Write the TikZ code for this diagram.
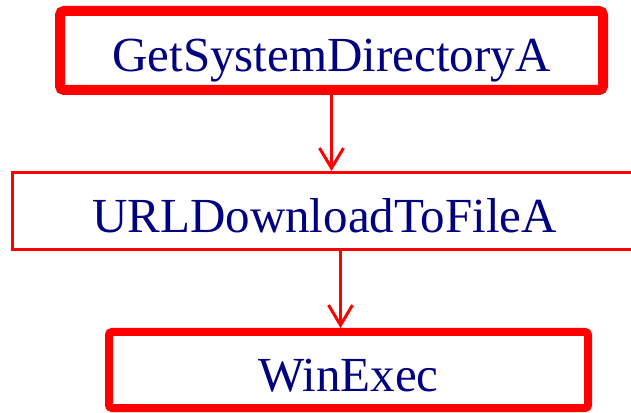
\documentclass[tikz,border=0pt]{standalone}
\usepackage{fontspec}
\setmainfont{Liberation Serif}
\usepackage{tikz}
\usetikzlibrary{arrows.meta,positioning}
\definecolor{callred}{HTML}{FF0000}
\definecolor{callnavy}{HTML}{000080}

\begin{document}
\begin{tikzpicture}[x=1pt,y=1pt,
  call/.style={draw=callred,text=callnavy,inner sep=0pt,text height=43pt,text depth=0pt,font=\fontsize{49}{58}\selectfont},
  hot/.style={call,line width=10pt,rounded corners=4pt},
  mild/.style={call,line width=3pt},
  flow/.style={draw=callred,line width=3pt,-{Straight Barb[length=20pt,width=24pt,line width=3pt]}}]
\useasboundingbox (0,0) rectangle (631,412);
\node[hot,minimum width=543pt,minimum height=79pt] (getdir) at (331.5,361.5) {GetSystemDirectoryA};
\node[mild,minimum width=624pt,minimum height=77pt] (urldl) at (324.5,201) {URLDownloadToFileA};
\node[call,line width=8pt,rounded corners=3pt,minimum width=479pt,minimum height=76pt] (winexec) at (348.5,42) {WinExec};
\draw[flow] (getdir.south) -- (getdir.south |- urldl.north);
\draw[flow] ([xshift=16pt]urldl.south) -- ([xshift=16pt]urldl.south |- winexec.north);
\end{tikzpicture}
\end{document}
